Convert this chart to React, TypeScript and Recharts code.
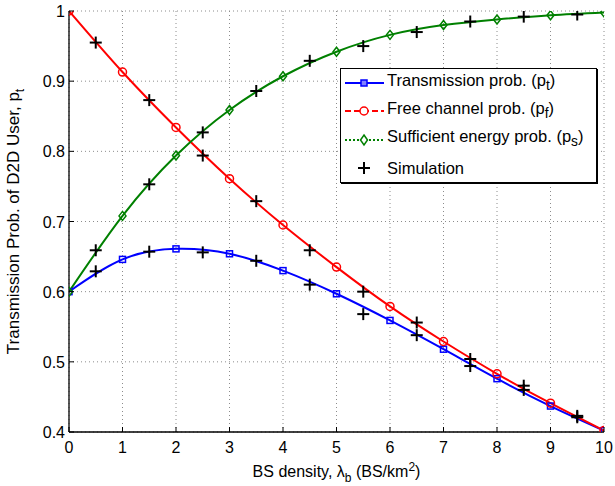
import React from "react";
import { ComposedChart, Line, XAxis, YAxis, CartesianGrid } from "recharts";

// analytical curves, evaluated at integer BS densities
const xTheory = [0, 1, 2, 3, 4, 5, 6, 7, 8, 9, 10];
const transProb = [0.6, 0.646, 0.661, 0.654, 0.63, 0.597, 0.559, 0.518, 0.476, 0.437, 0.402];
const freeProb = [1.0, 0.913, 0.834, 0.761, 0.695, 0.635, 0.579, 0.529, 0.483, 0.441, 0.402];
const energyProb = [0.6, 0.708, 0.794, 0.859, 0.907, 0.942, 0.966, 0.98, 0.988, 0.994, 0.998];

// simulation points at half-integer densities
const xSim = [0.5, 1.5, 2.5, 3.5, 4.5, 5.5, 6.5, 7.5, 8.5, 9.5];
const simTrans = [0.629, 0.657, 0.656, 0.644, 0.61, 0.568, 0.538, 0.494, 0.46, 0.421];
const simFree = [0.955, 0.873, 0.794, 0.729, 0.659, 0.6, 0.556, 0.504, 0.466, 0.423];
const simEnergy = [0.659, 0.753, 0.827, 0.886, 0.929, 0.95, 0.97, 0.985, 0.992, 0.995];

const xTicks = [0, 1, 2, 3, 4, 5, 6, 7, 8, 9, 10];
const yTicks = [0.4, 0.5, 0.6, 0.7, 0.8, 0.9, 1];

const FONT = '"Liberation Sans", Arial, Helvetica, sans-serif';
const BLUE = "#0000ff";
const RED = "#ff0000";
const GREEN = "#008000";

const toRows = (xs: number[], ys: number[]) => xs.map((x, i) => ({ x, y: ys[i] }));

const squareDot = (p: any) => (
  <rect key={`sq-${p.index}`} x={p.cx - 3} y={p.cy - 3} width={6} height={6}
    fill="none" stroke={BLUE} strokeWidth={1.5} />
);
const circleDot = (p: any) => (
  <circle key={`ci-${p.index}`} cx={p.cx} cy={p.cy} r={4} fill="none" stroke={RED} strokeWidth={1.5} />
);
const diamondDot = (p: any) => (
  <polygon key={`di-${p.index}`}
    points={`${p.cx},${p.cy - 4.5} ${p.cx + 3.5},${p.cy} ${p.cx},${p.cy + 4.5} ${p.cx - 3.5},${p.cy}`}
    fill="none" stroke={GREEN} strokeWidth={1.5} />
);
const plusDot = (p: any) => (
  <g key={`pl-${p.index}`} stroke="#000" strokeWidth={2}>
    <line x1={p.cx - 6} y1={p.cy} x2={p.cx + 6} y2={p.cy} />
    <line x1={p.cx} y1={p.cy - 6} x2={p.cx} y2={p.cy + 6} />
  </g>
);

const fmtY = (v: number) => (v === 1 ? "1" : v.toFixed(1));

const BottomTick = ({ x, y, payload }: any) => (
  <g>
    <line x1={x} y1={y} x2={x} y2={y - 5} stroke="#000" />
    <text x={x} y={y + 21} textAnchor="middle" fontSize={16} fontFamily={FONT} fill="#000">
      {payload.value}
    </text>
  </g>
);
const TopTick = ({ x, y }: any) => <line x1={x} y1={y} x2={x} y2={y + 5} stroke="#000" />;
const LeftTick = ({ x, y, payload }: any) => (
  <g>
    <line x1={x} y1={y} x2={x + 5} y2={y} stroke="#000" />
    <text x={x - 4} y={y + 6} textAnchor="end" fontSize={16} fontFamily={FONT} fill="#000">
      {fmtY(payload.value)}
    </text>
  </g>
);
const RightTick = ({ x, y }: any) => <line x1={x} y1={y} x2={x - 5} y2={y} stroke="#000" />;

const XTitle = ({ viewBox }: any) => (
  <text x={viewBox.x + viewBox.width / 2} y={viewBox.y + 45} textAnchor="middle"
    fontSize={16} fontFamily={FONT} fill="#000">
    BS density, λ<tspan dy={5} fontSize={12}>b</tspan>
    <tspan dy={-5}> (BS/km</tspan>
    <tspan dy={-6} fontSize={12}>2</tspan>
    <tspan dy={6}>)</tspan>
  </text>
);

const YTitle = ({ viewBox }: any) => {
  const cx = viewBox.x;
  const cy = viewBox.y + viewBox.height / 2;
  return (
    <text x={cx} y={cy} transform={`rotate(-90 ${cx} ${cy})`} textAnchor="middle"
      fontSize={17} fontFamily={FONT} fill="#000">
      Transmission Prob. of D2D User, p<tspan dy={5} fontSize={12}>t</tspan>
    </text>
  );
};

function LegendBox() {
  const rows = [
    { label: <>Transmission prob. (p<sub>t</sub>)</>, color: BLUE, dash: undefined, mark: "sq" },
    { label: <>Free channel prob. (p<sub>f</sub>)</>, color: RED, dash: "6 3", mark: "ci" },
    { label: <>Sufficient energy prob. (p<sub>s</sub>)</>, color: GREEN, dash: "2 2", mark: "di" },
    { label: <>Simulation</>, color: "#000", dash: undefined, mark: "pl" },
  ];
  return (
    <div style={{
      position: "absolute", left: 340, top: 68, width: 255, height: 113,
      border: "1px solid #000", background: "#fff", boxShadow: "1px 1px 0 #000",
      fontFamily: FONT, fontSize: 16.5, color: "#000",
    }}>
      {rows.map((r, i) => (
        <div key={i} style={{ display: "flex", alignItems: "center", height: 28.25 }}>
          <svg width={46} height={20} style={{ flex: "none" }}>
            {r.mark !== "pl" && (
              <line x1={4} y1={10} x2={43} y2={10} stroke={r.color} strokeWidth={2} strokeDasharray={r.dash} />
            )}
            {r.mark === "sq" && <rect x={20} y={7} width={6} height={6} fill="#8080ff" stroke={BLUE} strokeWidth={1.5} />}
            {r.mark === "ci" && <circle cx={23} cy={10} r={4} fill="#fff" stroke={RED} strokeWidth={1.5} />}
            {r.mark === "di" && <polygon points="23,5 26.5,10 23,15 19.5,10" fill="#fff" stroke={GREEN} strokeWidth={1.5} />}
            {r.mark === "pl" && (
              <g stroke="#000" strokeWidth={2}>
                <line x1={17} y1={10} x2={29} y2={10} />
                <line x1={23} y1={4} x2={23} y2={16} />
              </g>
            )}
          </svg>
          <span style={{ whiteSpace: "nowrap", lineHeight: "20px" }}>{r.label}</span>
        </div>
      ))}
    </div>
  );
}

export default function App() {
  return (
    <div style={{ position: "absolute", left: 0, top: 0, width: 615, height: 486, background: "#fff" }}>
      <ComposedChart width={615} height={486} margin={{ top: 11, right: 11, bottom: 0, left: 19 }}>
        <CartesianGrid stroke="#8c8c8c" strokeDasharray="1 3" />
        <XAxis dataKey="x" type="number" domain={[0, 10]} ticks={xTicks} interval={0}
          height={54} tickSize={0} tickMargin={0} tick={<BottomTick />}
          axisLine={{ stroke: "#000", strokeWidth: 1.3 }} label={<XTitle />} allowDataOverflow />
        <XAxis xAxisId="t" orientation="top" dataKey="x" type="number" domain={[0, 10]} ticks={xTicks}
          interval={0} height={0} tickSize={0} tickMargin={0} tick={<TopTick />}
          axisLine={{ stroke: "#000", strokeWidth: 1.3 }} allowDataOverflow />
        <YAxis type="number" domain={[0.4, 1]} ticks={yTicks} interval={0} width={50}
          tickSize={0} tickMargin={0} tick={<LeftTick />} axisLine={{ stroke: "#000", strokeWidth: 1.3 }}
          label={<YTitle />} allowDataOverflow />
        <YAxis yAxisId="r" orientation="right" type="number" domain={[0.4, 1]} ticks={yTicks}
          interval={0} width={0} tickSize={0} tickMargin={0} tick={<RightTick />}
          axisLine={{ stroke: "#000", strokeWidth: 1.3 }} allowDataOverflow />

        <Line data={toRows(xTheory, transProb)} dataKey="y" type="natural" stroke={BLUE}
          strokeWidth={2} dot={squareDot} activeDot={false} isAnimationActive={false} />
        <Line data={toRows(xTheory, freeProb)} dataKey="y" type="natural" stroke={RED}
          strokeWidth={2} dot={circleDot} activeDot={false} isAnimationActive={false} />
        <Line data={toRows(xTheory, energyProb)} dataKey="y" type="natural" stroke={GREEN}
          strokeWidth={2} dot={diamondDot} activeDot={false} isAnimationActive={false} />

        <Line data={toRows(xSim, simTrans)} dataKey="y" stroke="none" dot={plusDot}
          activeDot={false} isAnimationActive={false} />
        <Line data={toRows(xSim, simFree)} dataKey="y" stroke="none" dot={plusDot}
          activeDot={false} isAnimationActive={false} />
        <Line data={toRows(xSim, simEnergy)} dataKey="y" stroke="none" dot={plusDot}
          activeDot={false} isAnimationActive={false} />
      </ComposedChart>
      <LegendBox />
    </div>
  );
}
